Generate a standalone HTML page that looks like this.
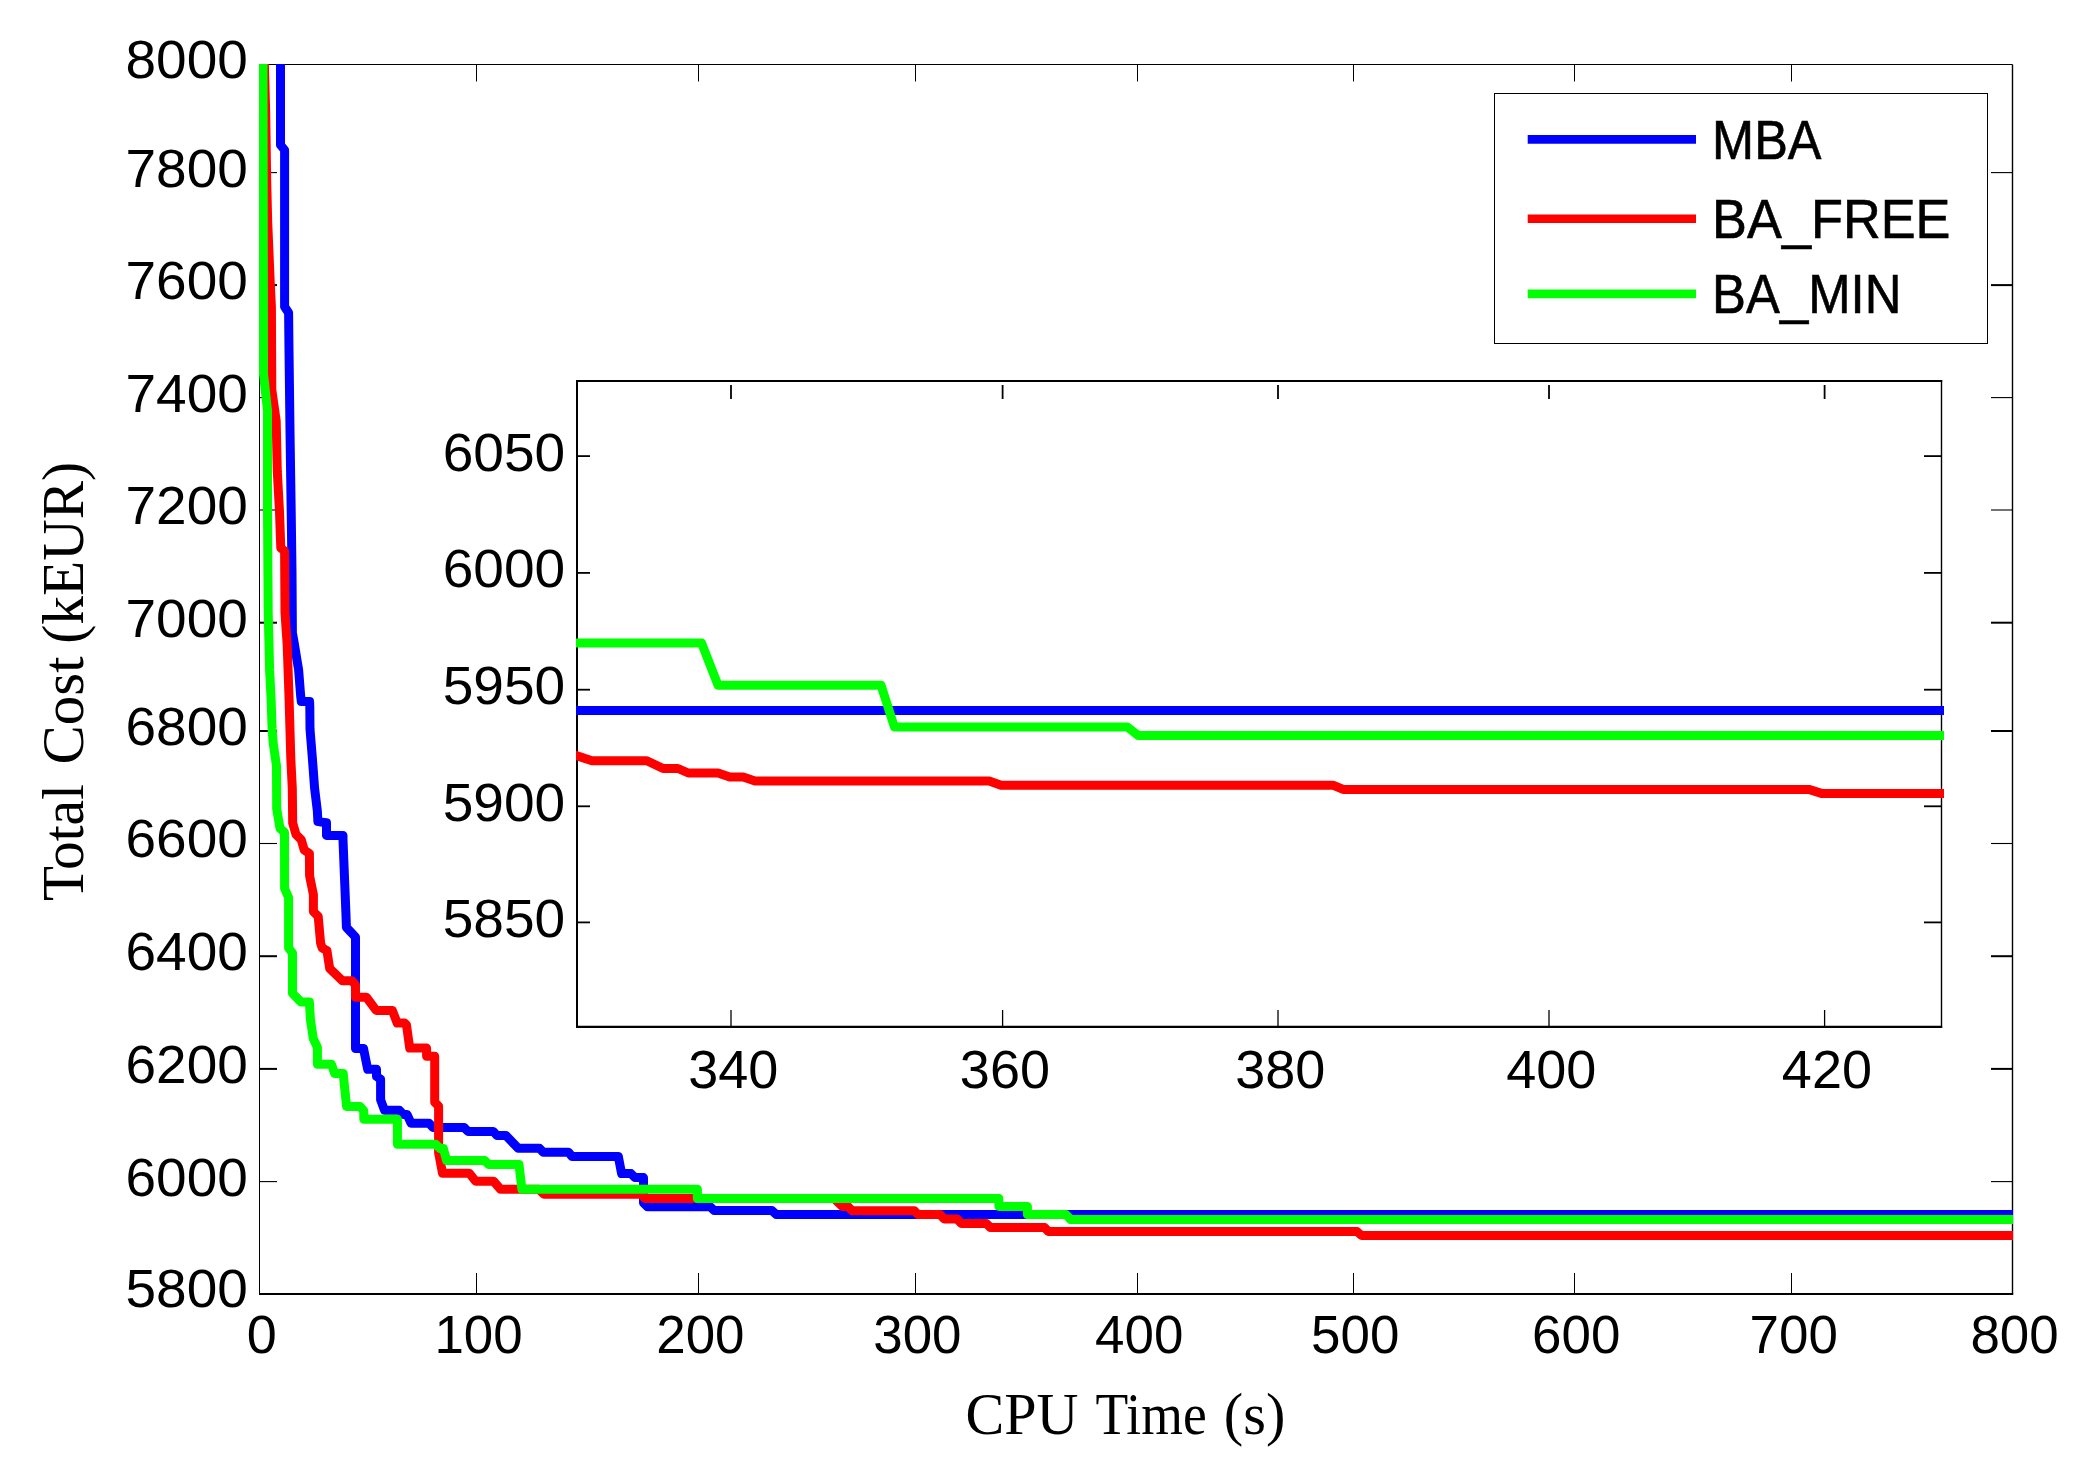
<!DOCTYPE html>
<html lang="en"><head><meta charset="utf-8"><title>Total Cost vs CPU Time</title>
<style>
html,body{margin:0;padding:0;background:#fff;}
body{width:2086px;height:1484px;overflow:hidden;}
svg{display:block;}
.sans{font-family:"Liberation Sans",Arial,Helvetica,sans-serif;fill:#000;}
.serif{font-family:"Liberation Serif","Times New Roman",Times,serif;fill:#000;}
.ax{stroke:#000;fill:none;}
.cv{fill:none;stroke-linejoin:round;stroke-linecap:butt;}
</style></head><body>
<svg width="2086" height="1484" viewBox="0 0 2086 1484">
<rect x="0" y="0" width="2086" height="1484" fill="#fff"/>
<defs>
<clipPath id="cm"><rect x="259.0" y="64.0" width="1754.0" height="1230.5"/></clipPath>
<clipPath id="ci"><rect x="576.0" y="381.0" width="1368.0" height="646.0"/></clipPath>
</defs>
<g class="ax">
<line x1="259.5" y1="64.5" x2="2012.5" y2="64.5" stroke-width="1"/>
<line x1="259.5" y1="64.5" x2="259.5" y2="1294.5" stroke-width="1"/>
<line x1="2012.5" y1="64.5" x2="2012.5" y2="1294.5" stroke-width="1.4"/>
<line x1="259.0" y1="1294.0" x2="2013.2" y2="1294.0" stroke-width="2"/>
<line x1="476.5" y1="1293.5" x2="476.5" y2="1273.0" stroke-width="1"/>
<line x1="476.5" y1="64.5" x2="476.5" y2="81.5" stroke-width="1"/>
<line x1="698.5" y1="1293.5" x2="698.5" y2="1273.0" stroke-width="1"/>
<line x1="698.5" y1="64.5" x2="698.5" y2="81.5" stroke-width="1"/>
<line x1="915.5" y1="1293.5" x2="915.5" y2="1273.0" stroke-width="1"/>
<line x1="915.5" y1="64.5" x2="915.5" y2="81.5" stroke-width="1"/>
<line x1="1137.5" y1="1293.5" x2="1137.5" y2="1273.0" stroke-width="1"/>
<line x1="1137.5" y1="64.5" x2="1137.5" y2="81.5" stroke-width="1"/>
<line x1="1353.5" y1="1293.5" x2="1353.5" y2="1273.0" stroke-width="1"/>
<line x1="1353.5" y1="64.5" x2="1353.5" y2="81.5" stroke-width="1"/>
<line x1="1574.5" y1="1293.5" x2="1574.5" y2="1273.0" stroke-width="1"/>
<line x1="1574.5" y1="64.5" x2="1574.5" y2="81.5" stroke-width="1"/>
<line x1="1791.5" y1="1293.5" x2="1791.5" y2="1273.0" stroke-width="1"/>
<line x1="1791.5" y1="64.5" x2="1791.5" y2="81.5" stroke-width="1"/>
<line x1="259.5" y1="172.6" x2="277.0" y2="172.6" stroke-width="1.1"/>
<line x1="2012.5" y1="172.6" x2="1991.0" y2="172.6" stroke-width="1.1"/>
<line x1="259.5" y1="285.1" x2="277.0" y2="285.1" stroke-width="2"/>
<line x1="2012.5" y1="285.1" x2="1991.0" y2="285.1" stroke-width="2"/>
<line x1="259.5" y1="397.6" x2="277.0" y2="397.6" stroke-width="1.1"/>
<line x1="2012.5" y1="397.6" x2="1991.0" y2="397.6" stroke-width="1.1"/>
<line x1="259.5" y1="510.0" x2="277.0" y2="510.0" stroke-width="1.1"/>
<line x1="2012.5" y1="510.0" x2="1991.0" y2="510.0" stroke-width="1.1"/>
<line x1="259.5" y1="622.7" x2="277.0" y2="622.7" stroke-width="2"/>
<line x1="2012.5" y1="622.7" x2="1991.0" y2="622.7" stroke-width="2"/>
<line x1="259.5" y1="731.0" x2="277.0" y2="731.0" stroke-width="2"/>
<line x1="2012.5" y1="731.0" x2="1991.0" y2="731.0" stroke-width="2"/>
<line x1="259.5" y1="843.5" x2="277.0" y2="843.5" stroke-width="1.1"/>
<line x1="2012.5" y1="843.5" x2="1991.0" y2="843.5" stroke-width="1.1"/>
<line x1="259.5" y1="956.2" x2="277.0" y2="956.2" stroke-width="2"/>
<line x1="2012.5" y1="956.2" x2="1991.0" y2="956.2" stroke-width="2"/>
<line x1="259.5" y1="1068.9" x2="277.0" y2="1068.9" stroke-width="2"/>
<line x1="2012.5" y1="1068.9" x2="1991.0" y2="1068.9" stroke-width="2"/>
<line x1="259.5" y1="1181.6" x2="277.0" y2="1181.6" stroke-width="1.1"/>
<line x1="2012.5" y1="1181.6" x2="1991.0" y2="1181.6" stroke-width="1.1"/>
</g>
<g class="sans" font-size="54" text-anchor="middle">
<text x="261.7" y="1353.3">0</text>
<text x="478.6" y="1353.3" textLength="88.3" lengthAdjust="spacingAndGlyphs">100</text>
<text x="700.4" y="1353.3" textLength="88.3" lengthAdjust="spacingAndGlyphs">200</text>
<text x="917.4" y="1353.3" textLength="88.3" lengthAdjust="spacingAndGlyphs">300</text>
<text x="1139.2" y="1353.3" textLength="88.3" lengthAdjust="spacingAndGlyphs">400</text>
<text x="1355.2" y="1353.3" textLength="88.3" lengthAdjust="spacingAndGlyphs">500</text>
<text x="1576.2" y="1353.3" textLength="88.3" lengthAdjust="spacingAndGlyphs">600</text>
<text x="1793.7" y="1353.3" textLength="88.3" lengthAdjust="spacingAndGlyphs">700</text>
<text x="2014.6" y="1353.3" textLength="88.3" lengthAdjust="spacingAndGlyphs">800</text>
</g>
<g class="sans" font-size="54" text-anchor="end">
<text x="247.8" y="78.4" textLength="122.3" lengthAdjust="spacingAndGlyphs">8000</text>
<text x="247.8" y="186.5" textLength="122.3" lengthAdjust="spacingAndGlyphs">7800</text>
<text x="247.8" y="299.0" textLength="122.3" lengthAdjust="spacingAndGlyphs">7600</text>
<text x="247.8" y="411.5" textLength="122.3" lengthAdjust="spacingAndGlyphs">7400</text>
<text x="247.8" y="523.9" textLength="122.3" lengthAdjust="spacingAndGlyphs">7200</text>
<text x="247.8" y="636.6" textLength="122.3" lengthAdjust="spacingAndGlyphs">7000</text>
<text x="247.8" y="744.9" textLength="122.3" lengthAdjust="spacingAndGlyphs">6800</text>
<text x="247.8" y="857.4" textLength="122.3" lengthAdjust="spacingAndGlyphs">6600</text>
<text x="247.8" y="970.1" textLength="122.3" lengthAdjust="spacingAndGlyphs">6400</text>
<text x="247.8" y="1082.8" textLength="122.3" lengthAdjust="spacingAndGlyphs">6200</text>
<text x="247.8" y="1195.5" textLength="122.3" lengthAdjust="spacingAndGlyphs">6000</text>
<text x="247.8" y="1307.4" textLength="122.3" lengthAdjust="spacingAndGlyphs">5800</text>
</g>
<text class="serif" font-size="60" y="1434"><tspan x="965.5" textLength="113" lengthAdjust="spacingAndGlyphs">CPU</tspan> <tspan x="1095.5" textLength="111.2" lengthAdjust="spacingAndGlyphs">Time</tspan> <tspan x="1223.8" textLength="61.5" lengthAdjust="spacingAndGlyphs">(s)</tspan></text>
<text class="serif" font-size="60" transform="translate(83 901) rotate(-90)" y="0"><tspan x="0" textLength="117" lengthAdjust="spacingAndGlyphs">Total</tspan> <tspan x="136.5" textLength="108" lengthAdjust="spacingAndGlyphs">Cost</tspan> <tspan x="257.2" textLength="182" lengthAdjust="spacingAndGlyphs">(kEUR)</tspan></text>
<g class="cv" stroke-width="9" clip-path="url(#cm)">
<polyline stroke="#0000ff" points="280.5,55.0 280.5,145.0 284.6,150.0 284.6,306.7 288.6,312.8 289.0,350.0 290.0,431.0 291.2,512.0 292.0,572.0 292.4,633.0 293.7,640.0 298.6,669.7 300.7,696.3 301.3,701.5 309.6,701.5 309.8,706.7 310.0,729.0 312.4,758.6 314.6,788.3 317.3,810.5 317.9,821.6 326.5,822.7 326.5,835.4 343.0,835.4 343.0,840.0 345.9,912.8 346.4,927.3 355.5,937.0 355.5,1048.5 363.5,1048.5 367.7,1069.3 376.5,1069.3 376.5,1076.4 380.6,1079.2 380.6,1099.7 384.5,1110.3 399.4,1110.3 403.3,1114.5 407.1,1114.5 411.0,1123.2 429.1,1123.2 433.0,1127.5 464.1,1127.5 468.0,1131.4 493.3,1131.4 496.8,1135.4 505.8,1135.4 518.3,1148.3 539.5,1148.3 543.4,1152.3 568.6,1152.3 571.9,1156.4 618.3,1156.4 621.6,1173.6 631.0,1173.6 635.0,1177.6 643.5,1177.6 643.5,1202.7 647.5,1206.7 710.2,1206.7 714.2,1210.5 771.9,1210.5 776.2,1214.5 2016.0,1214.5"/>
<polyline stroke="#ff0000" points="264.1,55.0 265.7,112.6 266.7,181.0 267.7,221.8 270.2,282.0 271.4,306.7 271.8,390.0 276.2,420.8 277.3,471.3 279.5,511.7 280.8,548.0 284.6,551.0 285.0,612.8 287.2,645.0 289.1,699.3 290.8,758.6 292.3,788.3 292.7,823.1 296.0,834.5 301.2,839.6 304.2,850.0 309.4,853.4 309.6,875.8 313.4,894.6 313.4,911.6 318.2,916.4 320.6,943.1 322.2,948.0 326.9,950.4 329.7,968.6 342.4,980.7 351.9,980.7 355.5,985.0 355.5,997.3 366.4,997.3 376.2,1010.4 392.3,1010.4 397.2,1023.0 404.5,1023.0 406.5,1025.0 409.7,1048.1 426.6,1048.1 426.6,1056.3 434.7,1056.3 434.7,1102.3 438.6,1106.1 438.6,1152.7 442.5,1173.2 469.3,1173.2 475.7,1181.3 493.6,1181.3 500.5,1189.3 539.0,1189.3 543.8,1194.2 641.0,1194.2 645.0,1198.5 834.1,1198.5 842.2,1206.4 847.9,1206.4 852.2,1210.8 914.3,1210.8 918.1,1214.6 940.2,1214.6 944.2,1218.9 957.0,1218.9 961.3,1223.4 986.3,1223.4 990.4,1227.5 1044.6,1227.5 1048.3,1231.5 1357.0,1231.5 1361.5,1235.5 2016.0,1235.5"/>
<polyline stroke="#00ff00" points="263.0,55.0 263.5,374.0 267.5,410.6 267.5,511.7 268.2,612.8 268.9,640.0 269.6,669.7 271.1,699.3 272.1,729.0 273.3,743.8 276.5,766.0 276.7,809.0 280.0,828.3 284.5,832.4 284.6,888.5 288.6,897.6 288.6,948.0 292.5,953.0 292.5,993.4 301.0,1002.0 309.4,1002.0 309.5,1003.2 310.4,1019.4 313.3,1038.8 317.4,1047.2 317.4,1064.3 331.4,1064.3 334.7,1073.5 343.3,1073.5 343.3,1075.0 346.6,1106.4 359.9,1106.4 363.8,1110.7 363.8,1119.3 397.4,1119.3 397.4,1144.3 435.6,1144.3 440.1,1148.6 443.4,1148.6 446.6,1160.5 484.8,1160.5 488.5,1164.4 519.0,1164.4 521.9,1189.3 697.4,1189.3 697.4,1198.5 998.9,1198.5 998.9,1206.4 1027.4,1206.4 1027.4,1214.6 1066.2,1214.6 1070.5,1219.5 2016.0,1219.5"/>
</g>
<rect x="577.0" y="381.0" width="1365.0" height="646.0" fill="#fff"/>
<g class="ax">
<line x1="576" y1="381" x2="1942.2" y2="381" stroke-width="2"/>
<line x1="577" y1="380" x2="577" y2="1028" stroke-width="2"/>
<line x1="1941.5" y1="380" x2="1941.5" y2="1028" stroke-width="1.4"/>
<line x1="576" y1="1026.8" x2="1942.2" y2="1026.8" stroke-width="2.2"/>
<line x1="731.0" y1="1027.0" x2="731.0" y2="1010.0" stroke-width="1.3"/>
<line x1="731.0" y1="385" x2="731.0" y2="399" stroke-width="1.8"/>
<line x1="1002.6" y1="1027.0" x2="1002.6" y2="1010.0" stroke-width="1.3"/>
<line x1="1002.6" y1="385" x2="1002.6" y2="399" stroke-width="1.8"/>
<line x1="1278.0" y1="1027.0" x2="1278.0" y2="1010.0" stroke-width="1.3"/>
<line x1="1278.0" y1="385" x2="1278.0" y2="399" stroke-width="1.8"/>
<line x1="1549.0" y1="1027.0" x2="1549.0" y2="1010.0" stroke-width="1.3"/>
<line x1="1549.0" y1="385" x2="1549.0" y2="399" stroke-width="1.8"/>
<line x1="1824.6" y1="1027.0" x2="1824.6" y2="1010.0" stroke-width="1.3"/>
<line x1="1824.6" y1="385" x2="1824.6" y2="399" stroke-width="1.8"/>
<line x1="577.0" y1="456.1" x2="590.0" y2="456.1" stroke-width="1.8"/>
<line x1="1941.5" y1="456.1" x2="1924.0" y2="456.1" stroke-width="1.8"/>
<line x1="577.0" y1="572.9" x2="590.0" y2="572.9" stroke-width="1.8"/>
<line x1="1941.5" y1="572.9" x2="1924.0" y2="572.9" stroke-width="1.8"/>
<line x1="577.0" y1="689.7" x2="590.0" y2="689.7" stroke-width="1.8"/>
<line x1="1941.5" y1="689.7" x2="1924.0" y2="689.7" stroke-width="1.8"/>
<line x1="577.0" y1="806.3" x2="590.0" y2="806.3" stroke-width="1.8"/>
<line x1="1941.5" y1="806.3" x2="1924.0" y2="806.3" stroke-width="1.8"/>
<line x1="577.0" y1="922.4" x2="590.0" y2="922.4" stroke-width="1.8"/>
<line x1="1941.5" y1="922.4" x2="1924.0" y2="922.4" stroke-width="1.8"/>
</g>
<g class="sans" font-size="54" text-anchor="middle">
<text x="733.3" y="1087.5">340</text>
<text x="1004.9" y="1087.5">360</text>
<text x="1280.3" y="1087.5">380</text>
<text x="1551.3" y="1087.5">400</text>
<text x="1826.9" y="1087.5">420</text>
</g>
<g class="sans" font-size="54" text-anchor="end">
<text x="565.2" y="470.5" textLength="122.5" lengthAdjust="spacingAndGlyphs">6050</text>
<text x="565.2" y="587.3" textLength="122.5" lengthAdjust="spacingAndGlyphs">6000</text>
<text x="565.2" y="704.1" textLength="122.5" lengthAdjust="spacingAndGlyphs">5950</text>
<text x="565.2" y="820.7" textLength="122.5" lengthAdjust="spacingAndGlyphs">5900</text>
<text x="565.2" y="936.8" textLength="122.5" lengthAdjust="spacingAndGlyphs">5850</text>
</g>
<g class="cv" stroke-width="9" clip-path="url(#ci)">
<polyline stroke="#0000ff" points="574.0,710.5 1944.0,710.5"/>
<polyline stroke="#ff0000" points="574.0,754.8 577.0,755.8 592.0,760.8 646.8,760.8 663.1,768.5 678.0,768.5 688.3,773.0 718.0,773.0 729.8,777.1 743.2,777.1 755.0,781.0 989.2,781.0 1001.0,785.3 1333.5,785.3 1343.1,789.4 1808.8,789.4 1821.5,793.4 1944.0,793.4"/>
<polyline stroke="#00ff00" points="574.0,643.1 701.6,643.1 718.0,685.2 881.0,685.2 894.4,727.0 1127.4,727.0 1138.2,735.5 1944.0,735.5"/>
</g>
<rect x="1494.5" y="93.5" width="493.0" height="250.0" fill="#fff" stroke="#000" stroke-width="1.2" shape-rendering="crispEdges"/>
<g class="cv" stroke-width="8.6">
<line x1="1527.7" y1="139.4" x2="1696" y2="139.4" stroke="#0000ff"/>
<line x1="1527.7" y1="218.7" x2="1696" y2="218.7" stroke="#ff0000"/>
<line x1="1527.7" y1="293.9" x2="1696" y2="293.9" stroke="#00ff00"/>
</g>
<g class="sans" font-size="55.5" stroke="#000" stroke-width="0.6">
<text x="1712.1" y="159.4" textLength="109.4" lengthAdjust="spacingAndGlyphs">MBA</text>
<text x="1712.1" y="238.2" textLength="238.4" lengthAdjust="spacingAndGlyphs">BA_FREE</text>
<text x="1712.1" y="313.4" textLength="189.3" lengthAdjust="spacingAndGlyphs">BA_MIN</text>
</g>
</svg></body></html>
